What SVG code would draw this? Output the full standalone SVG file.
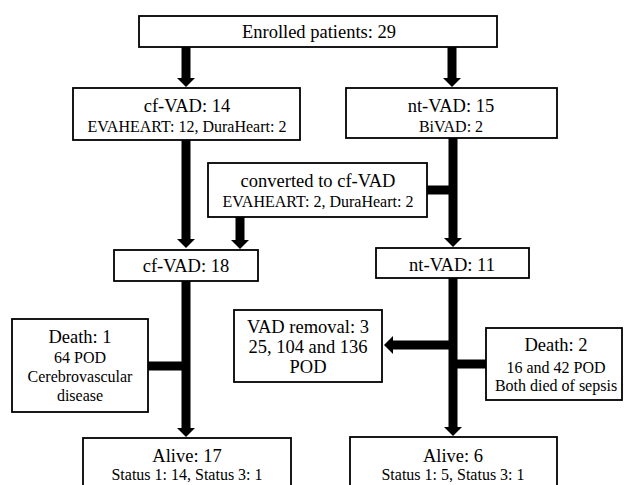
<svg xmlns="http://www.w3.org/2000/svg" width="624" height="485" viewBox="0 0 624 485">
<defs>
<style>
.box{fill:#fff;stroke:#000;stroke-width:1.8}
.t{font-family:"Liberation Serif","Times New Roman",serif;fill:#000;text-anchor:middle}
.l{font-size:18.5px}
.s{font-size:16px}
.c{stroke:#000;stroke-width:9;fill:none}
.ca{stroke:#000;stroke-width:9;fill:none;marker-end:url(#ah)}
</style>
<marker id="ah" viewBox="0 0 10 20" refX="0" refY="10" markerWidth="1.15" markerHeight="2" markerUnits="strokeWidth" orient="auto">
<path d="M0,0 L10,10 L0,20 z" fill="#000"/>
</marker>
</defs>
<rect width="624" height="485" fill="#fff"/>
<g id="connectors">
<line class="ca" x1="186" y1="47" x2="186" y2="78"/>
<line class="ca" x1="452" y1="47" x2="452" y2="78"/>
<line class="ca" x1="186" y1="140" x2="186" y2="239"/>
<line class="ca" x1="240" y1="217" x2="240" y2="240"/>
<line class="ca" x1="453" y1="138" x2="453" y2="238"/>
<line class="c" x1="427" y1="190" x2="453" y2="190"/>
<line class="ca" x1="186" y1="281" x2="186" y2="428"/>
<line class="c" x1="148" y1="366" x2="186" y2="366"/>
<line class="ca" x1="453" y1="278" x2="453" y2="427"/>
<line class="ca" x1="453" y1="345" x2="393" y2="345"/>
<line class="c" x1="453" y1="364" x2="486" y2="364"/>
</g>
<g id="enrolled">
<rect class="box" x="139" y="16" width="358" height="31"/>
<text class="t l" x="319" y="38">Enrolled patients: 29</text>
</g>
<g id="cfvad14">
<rect class="box" x="73" y="88" width="227" height="52"/>
<text class="t l" x="187" y="112">cf-VAD: 14</text>
<text class="t s" x="187" y="132">EVAHEART: 12, DuraHeart: 2</text>
</g>
<g id="ntvad15">
<rect class="box" x="346" y="88" width="211" height="50"/>
<text class="t l" x="451" y="112">nt-VAD: 15</text>
<text class="t s" x="451" y="132">BiVAD: 2</text>
</g>
<g id="converted">
<rect class="box" x="208" y="163" width="219" height="54"/>
<text class="t l" x="318" y="187">converted to cf-VAD</text>
<text class="t s" x="318" y="207">EVAHEART: 2, DuraHeart: 2</text>
</g>
<g id="cfvad18">
<rect class="box" x="114" y="250" width="144" height="31"/>
<text class="t l" x="186" y="272">cf-VAD: 18</text>
</g>
<g id="ntvad11">
<rect class="box" x="376" y="248" width="153" height="30"/>
<text class="t l" x="452" y="271">nt-VAD: 11</text>
</g>
<g id="death1">
<rect class="box" x="12" y="319" width="136" height="93"/>
<text class="t l" x="80" y="343">Death: 1</text>
<text class="t s" x="80" y="363">64 POD</text>
<text class="t s" x="80" y="382">Cerebrovascular</text>
<text class="t s" x="80" y="401">disease</text>
</g>
<g id="vadremoval">
<rect class="box" x="234" y="310" width="148" height="72"/>
<text class="t l" x="308" y="333">VAD removal: 3</text>
<text class="t l" x="308" y="353">25, 104 and 136</text>
<text class="t l" x="308" y="373">POD</text>
</g>
<g id="death2">
<rect class="box" x="486" y="328" width="136" height="72"/>
<text class="t l" x="556" y="351">Death: 2</text>
<text class="t s" x="556" y="373">16 and 42 POD</text>
<text class="t s" x="556" y="391">Both died of sepsis</text>
</g>
<g id="alive17">
<rect class="box" x="83" y="438" width="208" height="60"/>
<text class="t l" x="187" y="462">Alive: 17</text>
<text class="t s" x="187" y="480">Status 1: 14, Status 3: 1</text>
</g>
<g id="alive6">
<rect class="box" x="350" y="437" width="207" height="60"/>
<text class="t l" x="453" y="462">Alive: 6</text>
<text class="t s" x="453" y="480">Status 1: 5, Status 3: 1</text>
</g>
</svg>
